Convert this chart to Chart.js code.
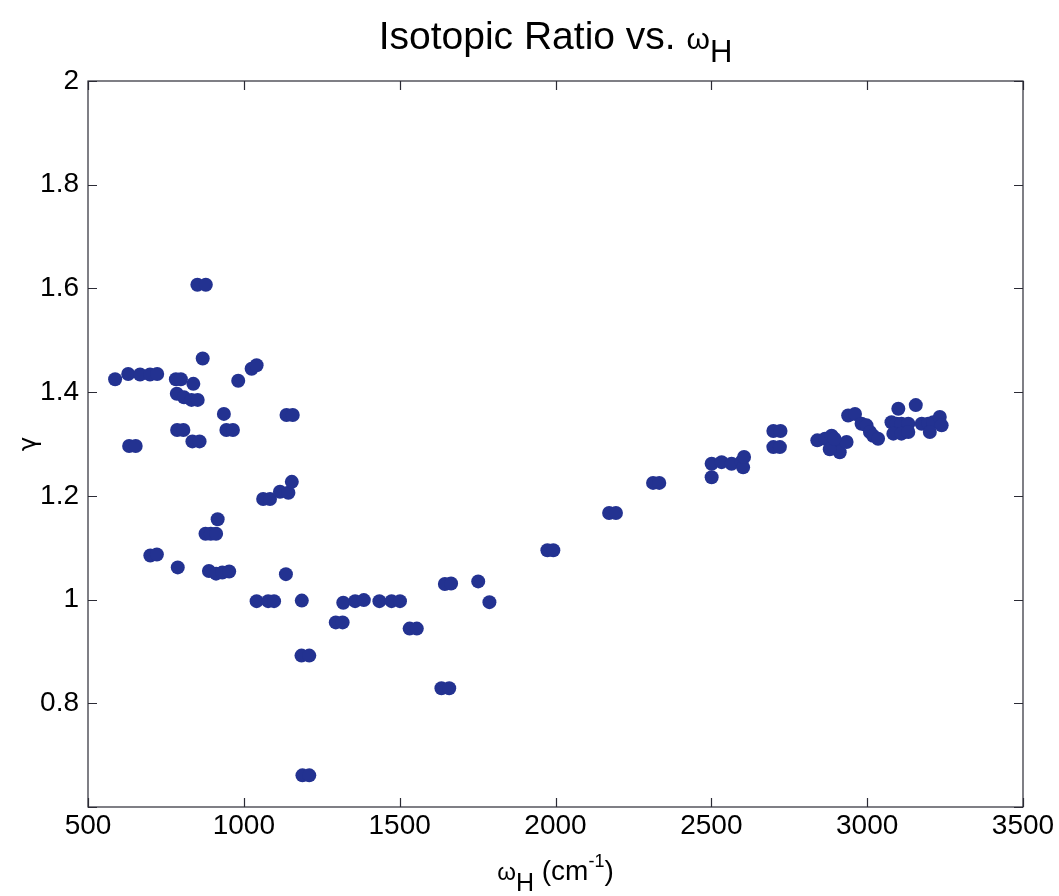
<!DOCTYPE html>
<html>
<head>
<meta charset="utf-8">
<title>Isotopic Ratio vs. omega_H</title>
<script src="https://cdn.jsdelivr.net/npm/chart.js@4.4.1/dist/chart.umd.min.js"></script>
<style>
    html, body { margin: 0; padding: 0; background: #fff; }
    #wrap { position: relative; width: 1059px; height: 896px; }
</style>
</head>
<body>
<div id="wrap"><canvas id="ratio-chart"></canvas></div>
<script>
// omega_H (cm^-1) for each mode
const omegaH = [
    587, 629, 667, 699, 722,
    632, 653, 700, 721, 788,
    782, 798, 838, 785, 808, 832, 852,
    786, 806, 835, 858,
    851, 878, 868,
    936, 944, 965, 982, 1025, 1041,
    916, 877, 894, 911,
    888, 911, 931, 953,
    1062, 1084, 1116, 1143, 1154,
    1041, 1078, 1097, 1186, 1135, 1137, 1157,
    1185, 1210, 1188, 1210,
    1295, 1317, 1319, 1357, 1385, 1435, 1474, 1501,
    1532, 1555, 1634, 1659, 1645, 1665, 1752, 1788,
    1974, 1993, 2172, 2194, 2313, 2333,
    2501, 2501, 2533, 2565, 2597, 2602, 2605,
    2699, 2722, 2699, 2720,
    2840, 2865, 2886, 2902, 2912, 2934, 2880, 2895,
    2939, 2961, 2982, 2998, 3009, 3019, 3035,
    3100, 3078, 3094, 3110, 3132, 3084, 3110, 3132,
    3156, 3175, 3196, 3212, 3233, 3239, 3201
];

// isotopic ratio gamma, same order as omegaH
const gammaRatio = [
    1.425, 1.435, 1.434, 1.434, 1.435,
    1.296, 1.296, 1.085, 1.087, 1.062,
    1.425, 1.425, 1.416, 1.397, 1.390, 1.385, 1.385,
    1.327, 1.327, 1.305, 1.305,
    1.607, 1.607, 1.465,
    1.358, 1.327, 1.327, 1.422, 1.445, 1.452,
    1.155, 1.127, 1.127, 1.127,
    1.055, 1.050, 1.052, 1.054,
    1.194, 1.194, 1.208, 1.206, 1.227,
    0.997, 0.997, 0.997, 0.998, 1.049, 1.356, 1.356,
    0.892, 0.892, 0.661, 0.661,
    0.956, 0.956, 0.994, 0.997, 0.999, 0.997, 0.997, 0.997,
    0.944, 0.944, 0.829, 0.829, 1.030, 1.031, 1.035, 0.995,
    1.095, 1.095, 1.167, 1.167, 1.225, 1.225,
    1.236, 1.262, 1.265, 1.262, 1.266, 1.255, 1.275,
    1.325, 1.325, 1.294, 1.294,
    1.307, 1.310, 1.316, 1.300, 1.284, 1.304, 1.290, 1.310,
    1.355, 1.358, 1.339, 1.336, 1.323, 1.316, 1.310,
    1.368, 1.342, 1.339, 1.339, 1.339, 1.320, 1.320, 1.323,
    1.375, 1.339, 1.339, 1.342, 1.352, 1.336, 1.323
];

// axis ticks
const xTicks = [500, 1000, 1500, 2000, 2500, 3000, 3500];
const yTicks = [0.6, 0.8, 1, 1.2, 1.4, 1.6, 1.8, 2];

(function() {
    'use strict';

    const FONT = '"Liberation Sans", Arial, Helvetica, sans-serif';
    const DOT = '#233291';

    /**
     * Draw the MATLAB style box with inward ticks
     */
    const boxPlugin = {
        id: 'matlabBox',
        afterDatasetsDraw: function(chart) {
            const ctx = chart.ctx;
            const a = chart.chartArea;
            const xs = chart.scales.x;
            const ys = chart.scales.y;
            const len = 9;

            ctx.save();
            ctx.strokeStyle = '#2b2b35';
            ctx.lineWidth = 1.2;
            ctx.strokeRect(a.left, a.top, a.right - a.left, a.bottom - a.top);

            ctx.beginPath();
            xTicks.forEach(function(v) {
                const px = Math.round(xs.getPixelForValue(v)) + 0.5;
                ctx.moveTo(px, a.bottom);
                ctx.lineTo(px, a.bottom - len);
                ctx.moveTo(px, a.top);
                ctx.lineTo(px, a.top + len);
            });
            yTicks.forEach(function(v) {
                const py = Math.round(ys.getPixelForValue(v)) + 0.5;
                ctx.moveTo(a.left, py);
                ctx.lineTo(a.left + len, py);
                ctx.moveTo(a.right, py);
                ctx.lineTo(a.right - len, py);
            });
            ctx.stroke();
            ctx.restore();
        }
    };

    /**
     * Draw a run of text pieces, each with its own size and baseline shift
     */
    function drawRuns(ctx, runs, cx, baseY) {
        let total = 0;
        runs.forEach(function(r) {
            ctx.font = r.size + 'px ' + FONT;
            r.w = ctx.measureText(r.text).width;
            total += r.w;
        });
        let x = cx - total / 2;
        runs.forEach(function(r) {
            ctx.font = r.size + 'px ' + FONT;
            ctx.fillText(r.text, x, baseY + (r.dy || 0));
            x += r.w;
        });
    }

    /**
     * Title and axis labels (with sub/superscripts)
     */
    const labelPlugin = {
        id: 'matlabLabels',
        afterDraw: function(chart) {
            const ctx = chart.ctx;
            const a = chart.chartArea;
            const cx = (a.left + a.right) / 2;

            ctx.save();
            ctx.fillStyle = '#000';
            ctx.textAlign = 'left';
            ctx.textBaseline = 'alphabetic';

            drawRuns(ctx, [
                { text: 'Isotopic Ratio vs. ', size: 39 },
                { text: 'ω', size: 30 },
                { text: 'H', size: 31, dy: 13 }
            ], cx, 49);

            drawRuns(ctx, [
                { text: 'ω', size: 24 },
                { text: 'H', size: 25, dy: 11 },
                { text: ' (cm', size: 28 },
                { text: '-1', size: 18, dy: -13 },
                { text: ')', size: 28 }
            ], cx, 880);

            ctx.translate(36, (a.top + a.bottom) / 2);
            ctx.rotate(-Math.PI / 2);
            ctx.textAlign = 'center';
            ctx.font = '24px "DejaVu Sans", ' + FONT;
            ctx.fillText('γ', 0, 0);
            ctx.restore();
        }
    };

    const RatioChart = {

        init: function() {
            const canvas = document.getElementById('ratio-chart');
            const points = omegaH.map(function(x, i) {
                return { x: x, y: gammaRatio[i] };
            });

            new Chart(canvas, {
                type: 'scatter',
                data: {
                    datasets: [{
                        data: points,
                        backgroundColor: DOT,
                        borderColor: DOT,
                        borderWidth: 0,
                        pointRadius: 7,
                        pointHoverRadius: 7
                    }]
                },
                options: {
                    responsive: true,
                    maintainAspectRatio: false,
                    animation: false,
                    layout: {
                        padding: { top: 81, right: 36, left: 0, bottom: 0 }
                    },
                    plugins: {
                        legend: { display: false },
                        tooltip: { enabled: false },
                        title: { display: false }
                    },
                    scales: {
                        x: {
                            type: 'linear',
                            min: xTicks[0],
                            max: xTicks[xTicks.length - 1],
                            afterFit: function(scale) { scale.height = 89; },
                            afterBuildTicks: function(scale) {
                                scale.ticks = xTicks.map(function(v) { return { value: v }; });
                            },
                            grid: { display: false },
                            border: { display: false },
                            ticks: {
                                color: '#000',
                                padding: -3,
                                maxRotation: 0,
                                font: { size: 28, family: FONT, lineHeight: 1 },
                                callback: function(value) {
                                    return String(value);
                                }
                            }
                        },
                        y: {
                            type: 'linear',
                            min: yTicks[0],
                            max: yTicks[yTicks.length - 1],
                            afterFit: function(scale) { scale.width = 88; },
                            afterBuildTicks: function(scale) {
                                scale.ticks = yTicks.map(function(v) { return { value: v }; });
                            },
                            grid: { display: false },
                            border: { display: false },
                            ticks: {
                                color: '#000',
                                padding: 1,
                                font: { size: 28, family: FONT },
                                callback: function(value) {
                                    // MATLAB left the bottom label off
                                    if (Math.abs(value - 0.6) < 1e-6) return '';
                                    return String(Math.round(value * 10) / 10);
                                }
                            }
                        }
                    }
                },
                plugins: [boxPlugin, labelPlugin]
            });
        }
    };

    RatioChart.init();
})();
</script>
</body>
</html>
